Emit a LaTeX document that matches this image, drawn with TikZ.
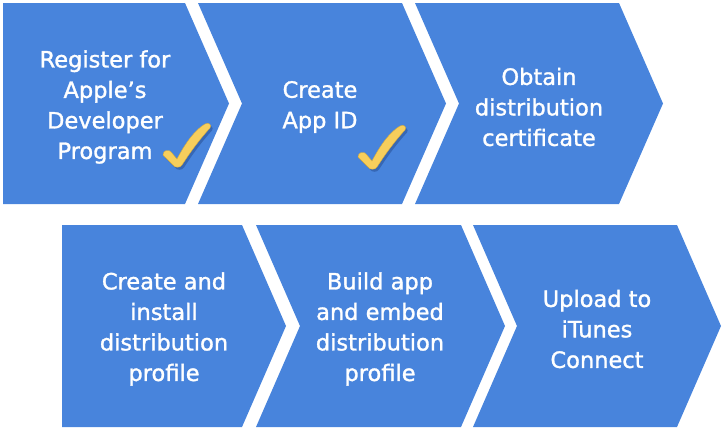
\documentclass[tikz,border=0pt]{standalone}
\usepackage{fontspec}
\setmainfont{DejaVu Sans}
\newfontfamily\stepfont{DejaVu Sans}[RawFeature={embolden=1.3}]
\definecolor{stepblue}{RGB}{72,132,220}
\definecolor{tickgold}{RGB}{247,206,92}
\definecolor{tickedge}{RGB}{214,170,60}
\definecolor{tickshadow}{RGB}{40,80,150}
\tikzset{
  stepshape/.style={fill=stepblue, draw=none},
  steptext/.style={text=white, align=center, inner sep=0pt,
    font=\stepfont\fontsize{22.5}{30.5}\selectfont},
  tickpath/.style={},
  pics/tick/.style={code={
    \fill[tickshadow, opacity=0.55, shift={(2,2.5)}]
      (-15,-9) .. controls (-15,-14) and (-9,-15) .. (-7,-12) -- (-1,-5)
      .. controls (8,-22) and (17,-34) .. (27,-40)
      .. controls (31,-42) and (34,-39) .. (32,-36)
      .. controls (21,-24) and (11,-10) .. (4,1)
      .. controls (2,4) and (-3,4) .. (-5,1) -- cycle;
    \filldraw[fill=tickgold, draw=tickedge, line width=0.4pt]
      (-15,-9) .. controls (-15,-14) and (-9,-15) .. (-7,-12) -- (-1,-5)
      .. controls (8,-22) and (17,-34) .. (27,-40)
      .. controls (31,-42) and (34,-39) .. (32,-36)
      .. controls (21,-24) and (11,-10) .. (4,1)
      .. controls (2,4) and (-3,4) .. (-5,1) -- cycle;
  }}
}
\begin{document}
\begin{tikzpicture}[x=1pt, y=-1pt]
\useasboundingbox (0,0) rectangle (724,434);
% row 1
\fill[stepshape] (3,3) -- (185,3) -- (229,103.5) -- (185,204) -- (3,204) -- cycle;
\fill[stepshape] (198,3) -- (402,3) -- (446,103.5) -- (402,204) -- (198,204) -- (242,103.5) -- cycle;
\fill[stepshape] (415,3) -- (619,3) -- (663,103.5) -- (619,204) -- (415,204) -- (459,103.5) -- cycle;
% row 2
\fill[stepshape] (62,225) -- (242,225) -- (286,326) -- (242,427) -- (62,427) -- cycle;
\fill[stepshape] (256,225) -- (461,225) -- (505,326) -- (461,427) -- (256,427) -- (300,326) -- cycle;
\fill[stepshape] (473,225) -- (677,225) -- (721,326) -- (677,427) -- (473,427) -- (517,326) -- cycle;
% texts
\node[steptext] (s1) at (105,107) {Register for\\Apple’s\\Developer\\Program};
\node[steptext] (s2) at (320,107) {Create\\App ID};
\node[steptext] (s3) at (539,107) {Obtain\\distribution\\certificate};
\node[steptext] (s4) at (164,329) {Create and\\install\\distribution\\profile};
\node[steptext] (s5) at (380,329) {Build app\\and embed\\distribution\\profile};
\node[steptext] (s6) at (597,329) {Upload to\\iTunes\\Connect};
% ticks
\pic (t1) at (178,164) {tick};
\pic (t2) at (373,166) {tick};
\end{tikzpicture}
\end{document}
